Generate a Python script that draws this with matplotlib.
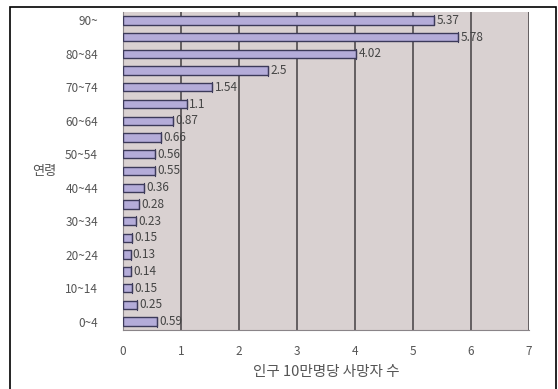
import matplotlib.pyplot as plt
from matplotlib.patches import Rectangle

plt.rcParams['font.family'] = ['Noto Sans CJK KR', 'DejaVu Sans']

# age groups, bottom to top
ages = ['0~4', '5~9', '10~14', '15~19', '20~24', '25~29', '30~34', '35~39',
        '40~44', '45~49', '50~54', '55~59', '60~64', '65~69', '70~74',
        '75~79', '80~84', '85~89', '90~']
rates = [0.59, 0.25, 0.15, 0.14, 0.13, 0.15, 0.23, 0.28, 0.36, 0.55, 0.56,
         0.66, 0.87, 1.1, 1.54, 2.5, 4.02, 5.78, 5.37]
rate_labels = ['0.59', '0.25', '0.15', '0.14', '0.13', '0.15', '0.23', '0.28',
               '0.36', '0.55', '0.56', '0.66', '0.87', '1.1', '1.54', '2.5',
               '4.02', '5.78', '5.37']
shown_ticks = ['0~4', '10~14', '20~24', '30~34', '40~44', '50~54', '60~64',
               '70~74', '80~84', '90~']

fig = plt.figure(figsize=(5.58, 3.89), dpi=100)
fig.patch.set_facecolor('white')
ax = fig.add_axes([0.2204, 0.1517, 0.7276, 0.8175])
ax.set_facecolor('#d9d1d1')

pos = list(range(len(ages)))
ax.barh(pos, rates, height=0.5, color='#b4acd9', edgecolor='#3c3a5a',
        linewidth=1.0, zorder=3)
for y, v, s in zip(pos, rates, rate_labels):
    ax.plot([v, v], [y - 0.3, y + 0.3], color='#3c3a5a', lw=0.8, zorder=3)
    ax.text(v + 0.04, y, s, va='center', ha='left', fontsize=8.5,
            color='#444444', zorder=4)

ax.set_xlim(0, 7)
ax.set_ylim(-0.5, 18.5)
ax.set_xticks(range(8))
ax.set_yticks([ages.index(a) for a in shown_ticks])
ax.set_yticklabels(shown_ticks)
ax.tick_params(axis='both', length=0, labelsize=8.5, colors='#555555')
ax.tick_params(axis='x', pad=11)
ax.tick_params(axis='y', pad=18)
ax.xaxis.grid(True, color='#5a5558', lw=1.3, zorder=1)
ax.set_axisbelow(True)
for side in ['top', 'right']:
    ax.spines[side].set_visible(False)
ax.spines['left'].set_color('#8a8488')
ax.spines['bottom'].set_color('#8a8488')

ax.set_xlabel('인구 10만명당 사망자 수', fontsize=10.5, color='#555555',
              labelpad=5)
fig.text(0.08, 0.558, '연령', fontsize=9.5, color='#555555', ha='center',
         va='center')

# outer frame
fig.patches.append(Rectangle((10 / 558, -0.01), 546 / 558, 1 - 7 / 389 + 0.01,
                             transform=fig.transFigure, fill=False,
                             edgecolor='black', lw=1.2))

fig.savefig('out.png', dpi=100)
